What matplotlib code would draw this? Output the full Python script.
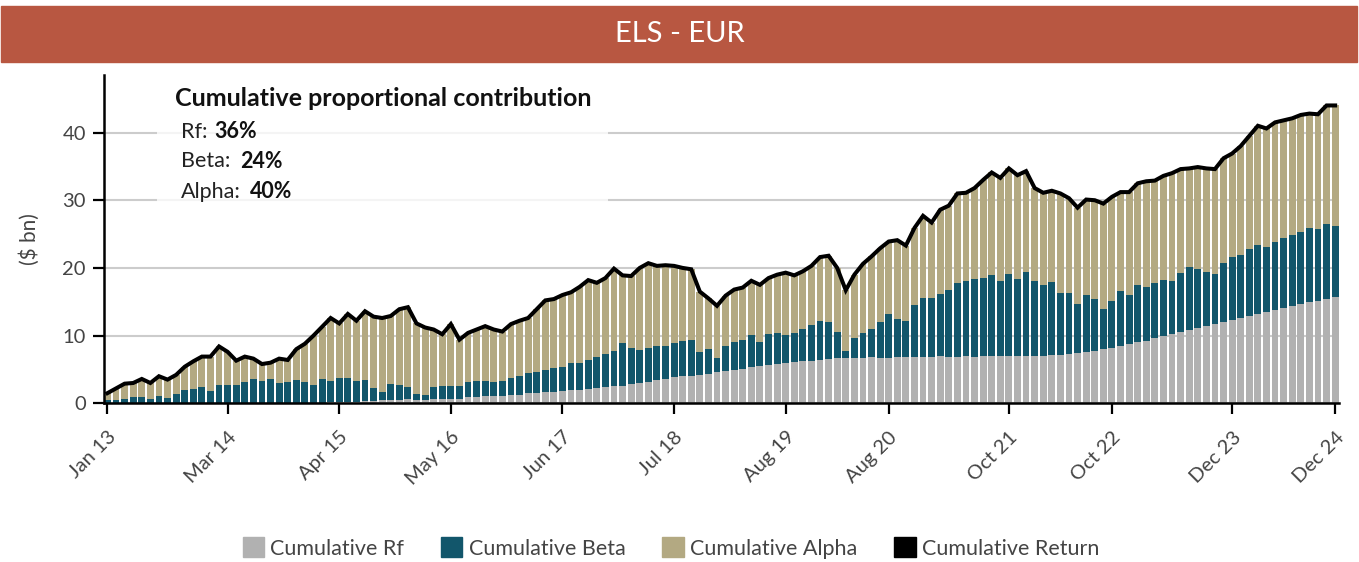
import matplotlib
matplotlib.use("Agg")
import matplotlib.pyplot as plt
from matplotlib.patches import Rectangle, Patch
import numpy as np

plt.rcParams['font.family'] = ['Lato', 'DejaVu Sans']

# monthly data Jan 2013 - Dec 2024, $ bn
cum_rf = [0.0, 0.0, 0.0, 0.0, 0.0, 0.0, 0.0, 0.0, 0.0, 0.1,
          0.1, 0.1, 0.1, 0.1, 0.1, 0.1, 0.1, 0.1, 0.1, 0.1,
          0.1, 0.1, 0.1, 0.1, 0.1, 0.1, 0.2, 0.2, 0.2, 0.2,
          0.3, 0.4, 0.5, 0.5, 0.5, 0.6, 0.5, 0.5, 0.6, 0.7,
          0.7, 0.7, 0.9, 0.9, 1.1, 1.1, 1.1, 1.2, 1.2, 1.5,
          1.5, 1.6, 1.6, 1.8, 2.0, 2.0, 2.1, 2.3, 2.4, 2.6,
          2.6, 2.9, 3.0, 3.2, 3.4, 3.6, 3.9, 4.0, 4.0, 4.2,
          4.3, 4.6, 4.8, 4.9, 5.1, 5.4, 5.5, 5.7, 5.8, 6.0,
          6.1, 6.3, 6.3, 6.4, 6.6, 6.7, 6.7, 6.7, 6.7, 6.8,
          6.7, 6.7, 6.8, 6.8, 6.8, 6.8, 6.8, 7.0, 6.8, 6.8,
          7.0, 6.8, 7.0, 7.0, 7.0, 7.0, 7.0, 7.0, 7.0, 7.0,
          7.1, 7.1, 7.3, 7.4, 7.6, 7.7, 8.0, 8.2, 8.5, 8.8,
          9.1, 9.2, 9.7, 10.0, 10.2, 10.5, 10.8, 11.1, 11.4, 11.7,
          12.0, 12.3, 12.6, 12.9, 13.2, 13.5, 13.8, 14.1, 14.4, 14.7,
          15.0, 15.1, 15.4, 15.7]

# top of the beta layer (rf + beta)
rf_plus_beta = [0.5, 0.5, 0.6, 0.9, 0.9, 0.6, 1.1, 0.8, 1.4, 2.0,
                2.1, 2.4, 1.8, 2.7, 2.7, 2.7, 3.2, 3.6, 3.3, 3.6,
                3.0, 3.2, 3.4, 3.2, 2.7, 3.6, 3.3, 3.7, 3.7, 3.3,
                3.4, 2.3, 1.7, 2.9, 2.7, 2.4, 1.4, 1.2, 2.4, 2.6,
                2.6, 2.6, 3.2, 3.3, 3.3, 3.2, 3.3, 3.7, 4.0, 4.5,
                4.6, 4.9, 5.2, 5.4, 6.0, 6.0, 6.4, 6.9, 7.3, 7.7,
                8.9, 8.2, 7.9, 8.2, 8.4, 8.4, 8.9, 9.2, 9.4, 7.6,
                8.0, 6.7, 8.5, 9.1, 9.4, 10.1, 9.1, 10.2, 10.4, 10.1,
                10.4, 11.0, 11.6, 12.2, 12.0, 10.5, 7.7, 9.7, 10.4, 11.0,
                12.0, 13.2, 12.5, 12.2, 14.5, 15.6, 15.6, 16.2, 16.7, 17.8,
                18.1, 18.4, 18.5, 19.0, 18.0, 19.1, 18.4, 19.4, 18.1, 17.5,
                17.9, 16.3, 16.3, 14.7, 16.0, 15.4, 13.9, 15.1, 16.6, 16.0,
                17.5, 17.2, 17.8, 18.2, 18.1, 19.3, 20.1, 19.8, 19.4, 19.1,
                20.7, 21.6, 21.9, 22.8, 23.4, 23.1, 23.8, 24.4, 24.9, 25.3,
                25.9, 25.8, 26.5, 26.2]

cum_return = [1.5, 2.2, 2.9, 3.0, 3.6, 3.0, 4.0, 3.5, 4.2, 5.4,
              6.2, 6.9, 6.9, 8.4, 7.6, 6.3, 6.9, 6.6, 5.8, 6.0,
              6.6, 6.4, 8.0, 8.8, 10.0, 11.3, 12.6, 11.8, 13.2, 12.2,
              13.6, 12.8, 12.6, 12.9, 13.9, 14.2, 11.8, 11.2, 10.9, 10.2,
              11.7, 9.4, 10.4, 10.9, 11.4, 10.9, 10.6, 11.7, 12.2, 12.6,
              13.9, 15.2, 15.4, 16.0, 16.4, 17.2, 18.2, 17.8, 18.5, 19.9,
              18.9, 18.8, 20.0, 20.7, 20.3, 20.4, 20.3, 20.0, 19.8, 16.5,
              15.5, 14.4, 15.9, 16.8, 17.1, 18.1, 17.5, 18.5, 19.0, 19.3,
              18.9, 19.5, 20.3, 21.6, 21.8, 20.0, 16.7, 19.0, 20.6, 21.7,
              22.9, 23.9, 24.1, 23.3, 25.9, 27.7, 26.7, 28.6, 29.2, 31.0,
              31.1, 31.8, 33.0, 34.1, 33.3, 34.7, 33.7, 34.3, 31.8, 31.1,
              31.4, 31.0, 30.3, 28.9, 30.1, 30.0, 29.5, 30.5, 31.2, 31.2,
              32.5, 32.8, 32.9, 33.6, 34.0, 34.6, 34.7, 34.9, 34.7, 34.6,
              36.2, 36.9, 38.0, 39.5, 41.0, 40.6, 41.5, 41.8, 42.1, 42.6,
              42.8, 42.7, 44.0, 44.0]

tick_pos = [0, 14, 27, 40, 53, 66, 79, 91, 105, 117, 131, 143]
tick_labels = ['Jan 13', 'Mar 14', 'Apr 15', 'May 16', 'Jun 17', 'Jul 18',
               'Aug 19', 'Aug 20', 'Oct 21', 'Oct 22', 'Dec 23', 'Dec 24']

c_rf = '#b1b1b1'
c_beta = '#12566b'
c_alpha = '#b3a982'
c_title = '#b85741'
c_txt = '#444444'

rf = np.array(cum_rf)
beta = np.array(rf_plus_beta) - rf
alpha = np.array(cum_return) - np.array(rf_plus_beta)
x = np.arange(len(rf))

W, H = 1359, 562
fig = plt.figure(figsize=(W / 100, H / 100), dpi=100)

def fx(px):
    return px / W

def fy(py):
    return 1 - py / H

# title banner
fig.patches.append(Rectangle((fx(1), fy(62)), fx(1357) - fx(1), fy(6) - fy(62),
                             transform=fig.transFigure, color=c_title, zorder=0))
fig.text(fx(680), fy(34), 'ELS - EUR', color='white', fontsize=21,
         ha='center', va='center')

ax = fig.add_axes([fx(104), fy(403.3), fx(1339) - fx(104), fy(75) - fy(403.3)])
ax.bar(x, rf, width=0.8, color=c_rf, zorder=2)
ax.bar(x, beta, width=0.8, bottom=rf, color=c_beta, zorder=2)
ax.bar(x, alpha, width=0.8, bottom=rf + beta, color=c_alpha, zorder=2)
ax.plot(x, cum_return, color='black', lw=2.9, zorder=4, solid_joinstyle='miter')

ax.set_xlim(-0.4, 143.45)
ax.set_ylim(0, 48.5)
ax.set_yticks([0, 10, 20, 30, 40])
ax.set_xticks(tick_pos)
ax.set_xticklabels(tick_labels, rotation=45, ha='right', rotation_mode='anchor')
ax.tick_params(axis='both', colors='black', labelcolor=c_txt, labelsize=14.5,
               length=8, width=1.6)
ax.tick_params(axis='x', pad=10)
ax.tick_params(axis='y', pad=5)
ax.set_ylabel('($ bn)', fontsize=15, color=c_txt, labelpad=16)

ax.grid(axis='y', color='#cccccc', lw=1.5, zorder=0)
ax.set_axisbelow(True)
for s in ['top', 'right']:
    ax.spines[s].set_visible(False)
ax.spines['left'].set_linewidth(1.8)
ax.spines['bottom'].set_linewidth(1.8)

# translucent box behind the note
ax.add_patch(Rectangle((fx(157), fy(212)), fx(608) - fx(157), fy(78) - fy(212),
                       transform=fig.transFigure, facecolor='white', alpha=0.8,
                       edgecolor='none', zorder=1))
fig.text(fx(175), fy(99), 'Cumulative proportional contribution', fontsize=18,
         fontweight='bold', color='#111111', va='center')
rows = [('Rf:', '36%', 132, 214), ('Beta:', '24%', 161, 240), ('Alpha:', '40%', 192, 250)]
for lab, val, py, vx in rows:
    fig.text(fx(181), fy(py), lab, fontsize=15.5, color='#222222', va='center')
    fig.text(fx(vx), fy(py), val, fontsize=15.5, fontweight='bold', color='#111111', va='center')

handles = [Patch(color=c_rf, label='Cumulative Rf'),
           Patch(color=c_beta, label='Cumulative Beta'),
           Patch(color=c_alpha, label='Cumulative Alpha'),
           Patch(color='black', label='Cumulative Return')]
leg = fig.legend(handles=handles, loc='center', bbox_to_anchor=(fx(671), fy(548)),
                 ncol=4, frameon=False, fontsize=15.5, handlelength=1.0,
                 handleheight=1.0, handletextpad=0.3, columnspacing=1.7)
for t in leg.get_texts():
    t.set_color(c_txt)

fig.savefig('out.png', dpi=100)
